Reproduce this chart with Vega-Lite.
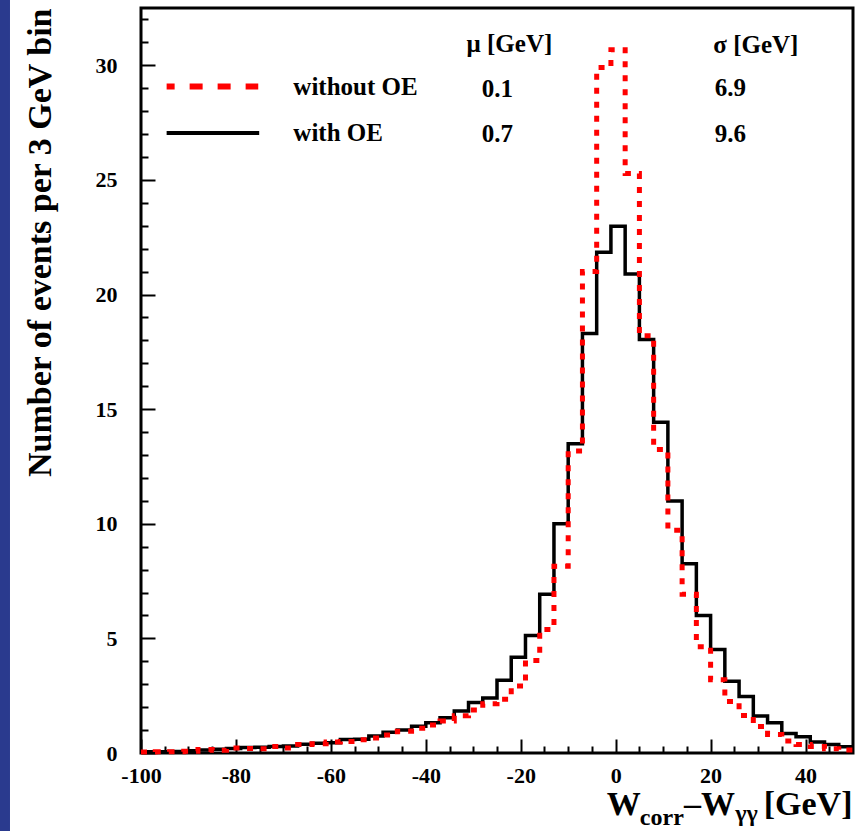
{
  "$schema": "https://vega.github.io/schema/vega-lite/v6.json",
  "autosize": {"type": "none"},
  "padding": {"left": 141, "top": 8, "right": 8, "bottom": 78},
  "width": 712,
  "height": 745,
  "background": "white",
  "config": {"view": {"stroke": "black", "strokeWidth": 3}, "font": "Liberation Serif"},
  "datasets": {
    "hist": [
      {"x": -100, "s": "with OE", "n": 0.05}, {"x": -97, "s": "with OE", "n": 0.06}, {"x": -94, "s": "with OE", "n": 0.07},
      {"x": -91, "s": "with OE", "n": 0.10}, {"x": -88, "s": "with OE", "n": 0.13}, {"x": -85, "s": "with OE", "n": 0.16},
      {"x": -82, "s": "with OE", "n": 0.20}, {"x": -79, "s": "with OE", "n": 0.24}, {"x": -76, "s": "with OE", "n": 0.25},
      {"x": -73, "s": "with OE", "n": 0.28}, {"x": -70, "s": "with OE", "n": 0.31}, {"x": -67, "s": "with OE", "n": 0.38},
      {"x": -64, "s": "with OE", "n": 0.42}, {"x": -61, "s": "with OE", "n": 0.45}, {"x": -58, "s": "with OE", "n": 0.59},
      {"x": -55, "s": "with OE", "n": 0.60}, {"x": -52, "s": "with OE", "n": 0.74}, {"x": -49, "s": "with OE", "n": 0.90},
      {"x": -46, "s": "with OE", "n": 1.00}, {"x": -43, "s": "with OE", "n": 1.17}, {"x": -40, "s": "with OE", "n": 1.32},
      {"x": -37, "s": "with OE", "n": 1.54}, {"x": -34, "s": "with OE", "n": 1.83}, {"x": -31, "s": "with OE", "n": 2.20},
      {"x": -28, "s": "with OE", "n": 2.40}, {"x": -25, "s": "with OE", "n": 3.17}, {"x": -22, "s": "with OE", "n": 4.18},
      {"x": -19, "s": "with OE", "n": 5.13}, {"x": -16, "s": "with OE", "n": 6.92}, {"x": -13, "s": "with OE", "n": 10.0},
      {"x": -10, "s": "with OE", "n": 13.49}, {"x": -7, "s": "with OE", "n": 18.3}, {"x": -4, "s": "with OE", "n": 21.84},
      {"x": -1, "s": "with OE", "n": 22.98}, {"x": 2, "s": "with OE", "n": 20.9}, {"x": 5, "s": "with OE", "n": 18.04},
      {"x": 8, "s": "with OE", "n": 14.43}, {"x": 11, "s": "with OE", "n": 10.99}, {"x": 14, "s": "with OE", "n": 8.26},
      {"x": 17, "s": "with OE", "n": 6.0}, {"x": 20, "s": "with OE", "n": 4.52}, {"x": 23, "s": "with OE", "n": 3.13},
      {"x": 26, "s": "with OE", "n": 2.46}, {"x": 29, "s": "with OE", "n": 1.61}, {"x": 32, "s": "with OE", "n": 1.32},
      {"x": 35, "s": "with OE", "n": 0.85}, {"x": 38, "s": "with OE", "n": 0.71}, {"x": 41, "s": "with OE", "n": 0.48},
      {"x": 44, "s": "with OE", "n": 0.37}, {"x": 47, "s": "with OE", "n": 0.27}, {"x": 50, "s": "with OE", "n": 0.27},
      {"x": -100, "s": "without OE", "n": 0.04}, {"x": -97, "s": "without OE", "n": 0.05}, {"x": -94, "s": "without OE", "n": 0.06},
      {"x": -91, "s": "without OE", "n": 0.08}, {"x": -88, "s": "without OE", "n": 0.15}, {"x": -85, "s": "without OE", "n": 0.12},
      {"x": -82, "s": "without OE", "n": 0.22}, {"x": -79, "s": "without OE", "n": 0.20}, {"x": -76, "s": "without OE", "n": 0.18},
      {"x": -73, "s": "without OE", "n": 0.28}, {"x": -70, "s": "without OE", "n": 0.22}, {"x": -67, "s": "without OE", "n": 0.37},
      {"x": -64, "s": "without OE", "n": 0.40}, {"x": -61, "s": "without OE", "n": 0.48}, {"x": -58, "s": "without OE", "n": 0.50},
      {"x": -55, "s": "without OE", "n": 0.58}, {"x": -52, "s": "without OE", "n": 0.65}, {"x": -49, "s": "without OE", "n": 0.78},
      {"x": -46, "s": "without OE", "n": 0.95}, {"x": -43, "s": "without OE", "n": 1.08}, {"x": -40, "s": "without OE", "n": 1.22},
      {"x": -37, "s": "without OE", "n": 1.40}, {"x": -34, "s": "without OE", "n": 1.62}, {"x": -31, "s": "without OE", "n": 1.88},
      {"x": -28, "s": "without OE", "n": 2.15}, {"x": -25, "s": "without OE", "n": 2.35}, {"x": -22, "s": "without OE", "n": 2.92},
      {"x": -19, "s": "without OE", "n": 4.04}, {"x": -16, "s": "without OE", "n": 5.39}, {"x": -13, "s": "without OE", "n": 8.15},
      {"x": -10, "s": "without OE", "n": 13.17}, {"x": -7, "s": "without OE", "n": 21.0}, {"x": -4, "s": "without OE", "n": 29.9},
      {"x": -1, "s": "without OE", "n": 30.68}, {"x": 2, "s": "without OE", "n": 25.28}, {"x": 5, "s": "without OE", "n": 18.2},
      {"x": 8, "s": "without OE", "n": 13.24}, {"x": 11, "s": "without OE", "n": 9.72}, {"x": 14, "s": "without OE", "n": 6.92},
      {"x": 17, "s": "without OE", "n": 4.64}, {"x": 20, "s": "without OE", "n": 3.2}, {"x": 23, "s": "without OE", "n": 2.25},
      {"x": 26, "s": "without OE", "n": 1.64}, {"x": 29, "s": "without OE", "n": 1.16}, {"x": 32, "s": "without OE", "n": 0.81},
      {"x": 35, "s": "without OE", "n": 0.52}, {"x": 38, "s": "without OE", "n": 0.37}, {"x": 41, "s": "without OE", "n": 0.28},
      {"x": 44, "s": "without OE", "n": 0.19}, {"x": 47, "s": "without OE", "n": 0.13}, {"x": 50, "s": "without OE", "n": 0.13}
    ]
  },
  "resolve": {"axis": {"x": "independent", "y": "independent"}},
  "layer": [
    {
      "data": {"values": [{}]},
      "mark": {"type": "rect", "color": "#2a3a8e"},
      "encoding": {
        "x": {"datum": -135, "type": "quantitative", "axis": null, "scale": {"domain": [-100, 50], "nice": false, "zero": false}},
        "x2": {"datum": -127.6},
        "y": {"datum": 34, "type": "quantitative", "axis": null, "scale": {"domain": [0, 32.5], "nice": false, "zero": false}},
        "y2": {"datum": -4}
      }
    },
    {
      "data": {"name": "hist"},
      "transform": [{"filter": "datum.s == 'with OE'"}],
      "mark": {"type": "line", "interpolate": "step-after", "color": "black", "strokeWidth": 3.5},
      "encoding": {
        "x": {
          "field": "x", "type": "quantitative",
          "scale": {"domain": [-100, 50], "nice": false, "zero": false},
          "axis": {
            "orient": "bottom", "values": [-100, -80, -60, -40, -20, 0, 20, 40],
            "tickSize": -14, "tickWidth": 2, "tickColor": "black", "domain": false, "grid": false,
            "labelFont": "Liberation Serif", "labelFontWeight": "bold", "labelFontSize": 22, "labelColor": "black",
            "labelPadding": 26, "labelExpr": "'' + datum.value", "labelOverlap": false, "labelFlush": false, "title": null
          }
        },
        "y": {
          "field": "n", "type": "quantitative",
          "scale": {"domain": [0, 32.5], "nice": false, "zero": false},
          "axis": {
            "orient": "left", "values": [0, 5, 10, 15, 20, 25, 30],
            "tickSize": -14, "tickWidth": 2, "tickColor": "black", "domain": false, "grid": false,
            "labelFont": "Liberation Serif", "labelFontWeight": "bold", "labelFontSize": 22, "labelColor": "black",
            "labelPadding": 38, "labelOverlap": false, "labelFlush": false,
            "title": "Number of events per 3 GeV bin", "titleFont": "Liberation Serif", "titleFontSize": 34,
            "titleFontWeight": "bold", "titleColor": "black", "titleAnchor": "end", "titlePadding": 38
          }
        }
      }
    },
    {
      "data": {"name": "hist"},
      "transform": [{"filter": "datum.s == 'without OE'"}],
      "mark": {"type": "line", "interpolate": "step-after", "color": "#ff0000", "strokeWidth": 5, "strokeDash": [6, 8], "strokeCap": "butt"},
      "encoding": {
        "x": {
          "field": "x", "type": "quantitative",
          "scale": {"domain": [-100, 50], "nice": false, "zero": false},
          "axis": {
            "orient": "bottom", "values": [-95, -90, -85, -75, -70, -65, -55, -50, -45, -35, -30, -25, -15, -10, -5, 5, 10, 15, 25, 30, 35, 45],
            "tickSize": -7, "tickWidth": 2, "tickColor": "black", "domain": false, "grid": false, "labels": false, "title": null
          }
        },
        "y": {
          "field": "n", "type": "quantitative",
          "scale": {"domain": [0, 32.5], "nice": false, "zero": false},
          "axis": {
            "orient": "left", "values": [1, 2, 3, 4, 6, 7, 8, 9, 11, 12, 13, 14, 16, 17, 18, 19, 21, 22, 23, 24, 26, 27, 28, 29, 31, 32],
            "tickSize": -7, "tickWidth": 2, "tickColor": "black", "domain": false, "grid": false, "labels": false, "title": null
          }
        }
      }
    },
    {
      "data": {"values": [{}]},
      "mark": {"type": "rule", "color": "#ff0000", "strokeWidth": 6, "strokeDash": [13, 15], "strokeDashOffset": 5},
      "encoding": {
        "x": {"datum": -94.6, "type": "quantitative", "axis": null},
        "x2": {"datum": -75.3},
        "y": {"datum": 29.08, "type": "quantitative", "axis": null}
      }
    },
    {
      "data": {"values": [{}]},
      "mark": {"type": "rule", "color": "black", "strokeWidth": 4},
      "encoding": {
        "x": {"datum": -94.6, "type": "quantitative", "axis": null},
        "x2": {"datum": -75.1},
        "y": {"datum": 27.05, "type": "quantitative", "axis": null}
      }
    },
    {
      "data": {"values": [{}]},
      "mark": {"type": "text", "text": "without OE", "align": "left", "baseline": "alphabetic", "font": "Liberation Serif", "fontWeight": "bold", "fontSize": 25, "color": "black"},
      "encoding": {"x": {"datum": -67.9, "type": "quantitative", "axis": null}, "y": {"datum": 28.7, "type": "quantitative", "axis": null}}
    },
    {
      "data": {"values": [{}]},
      "mark": {"type": "text", "text": "with OE", "align": "left", "baseline": "alphabetic", "font": "Liberation Serif", "fontWeight": "bold", "fontSize": 25, "color": "black"},
      "encoding": {"x": {"datum": -67.9, "type": "quantitative", "axis": null}, "y": {"datum": 26.71, "type": "quantitative", "axis": null}}
    },
    {
      "data": {"values": [{}]},
      "mark": {"type": "text", "text": "μ [GeV]", "align": "left", "baseline": "alphabetic", "font": "Liberation Serif", "fontWeight": "bold", "fontSize": 25, "color": "black"},
      "encoding": {"x": {"datum": -31.4, "type": "quantitative", "axis": null}, "y": {"datum": 30.59, "type": "quantitative", "axis": null}}
    },
    {
      "data": {"values": [{}]},
      "mark": {"type": "text", "text": "σ [GeV]", "align": "left", "baseline": "alphabetic", "font": "Liberation Serif", "fontWeight": "bold", "fontSize": 25, "color": "black"},
      "encoding": {"x": {"datum": 20.57, "type": "quantitative", "axis": null}, "y": {"datum": 30.52, "type": "quantitative", "axis": null}}
    },
    {
      "data": {"values": [{}]},
      "mark": {"type": "text", "text": "0.1", "align": "left", "baseline": "alphabetic", "font": "Liberation Serif", "fontWeight": "bold", "fontSize": 25, "color": "black"},
      "encoding": {"x": {"datum": -28.2, "type": "quantitative", "axis": null}, "y": {"datum": 28.63, "type": "quantitative", "axis": null}}
    },
    {
      "data": {"values": [{}]},
      "mark": {"type": "text", "text": "0.7", "align": "left", "baseline": "alphabetic", "font": "Liberation Serif", "fontWeight": "bold", "fontSize": 25, "color": "black"},
      "encoding": {"x": {"datum": -28.2, "type": "quantitative", "axis": null}, "y": {"datum": 26.67, "type": "quantitative", "axis": null}}
    },
    {
      "data": {"values": [{}]},
      "mark": {"type": "text", "text": "6.9", "align": "left", "baseline": "alphabetic", "font": "Liberation Serif", "fontWeight": "bold", "fontSize": 25, "color": "black"},
      "encoding": {"x": {"datum": 20.9, "type": "quantitative", "axis": null}, "y": {"datum": 28.66, "type": "quantitative", "axis": null}}
    },
    {
      "data": {"values": [{}]},
      "mark": {"type": "text", "text": "9.6", "align": "left", "baseline": "alphabetic", "font": "Liberation Serif", "fontWeight": "bold", "fontSize": 25, "color": "black"},
      "encoding": {"x": {"datum": 20.9, "type": "quantitative", "axis": null}, "y": {"datum": 26.67, "type": "quantitative", "axis": null}}
    },
    {
      "data": {"values": [{}]},
      "mark": {"type": "text", "text": "W", "align": "left", "baseline": "alphabetic", "font": "Liberation Serif", "fontWeight": "bold", "fontSize": 34, "color": "black"},
      "encoding": {"x": {"datum": -1.9, "type": "quantitative", "axis": null}, "y": {"datum": -2.71, "type": "quantitative", "axis": null}}
    },
    {
      "data": {"values": [{}]},
      "mark": {"type": "text", "text": "corr", "align": "left", "baseline": "alphabetic", "font": "Liberation Serif", "fontWeight": "bold", "fontSize": 24, "color": "black"},
      "encoding": {"x": {"datum": 5.1, "type": "quantitative", "axis": null}, "y": {"datum": -3.15, "type": "quantitative", "axis": null}}
    },
    {
      "data": {"values": [{}]},
      "mark": {"type": "text", "text": "–W", "align": "left", "baseline": "alphabetic", "font": "Liberation Serif", "fontWeight": "bold", "fontSize": 34, "color": "black"},
      "encoding": {"x": {"datum": 14.4, "type": "quantitative", "axis": null}, "y": {"datum": -2.71, "type": "quantitative", "axis": null}}
    },
    {
      "data": {"values": [{}]},
      "mark": {"type": "text", "text": "γγ", "align": "left", "baseline": "alphabetic", "font": "Liberation Serif", "fontWeight": "bold", "fontSize": 24, "color": "black"},
      "encoding": {"x": {"datum": 25.2, "type": "quantitative", "axis": null}, "y": {"datum": -2.97, "type": "quantitative", "axis": null}}
    },
    {
      "data": {"values": [{}]},
      "mark": {"type": "text", "text": "[GeV]", "align": "left", "baseline": "alphabetic", "font": "Liberation Serif", "fontWeight": "bold", "fontSize": 34, "color": "black"},
      "encoding": {"x": {"datum": 31.2, "type": "quantitative", "axis": null}, "y": {"datum": -2.71, "type": "quantitative", "axis": null}}
    }
  ]
}
